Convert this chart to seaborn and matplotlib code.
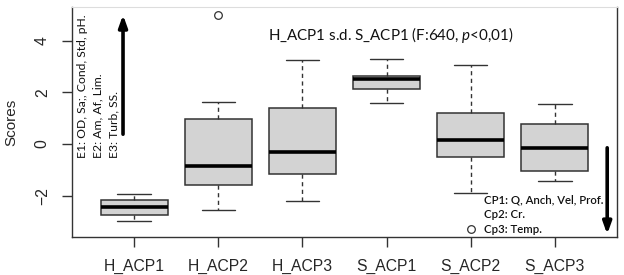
import pandas as pd
import numpy as np
import matplotlib
matplotlib.use('Agg')
import matplotlib.pyplot as plt
import seaborn as sns

# five-number summaries (min, q1, median, q3, max)
GROUPS = ['H_ACP1', 'H_ACP2', 'H_ACP3', 'S_ACP1', 'S_ACP2', 'S_ACP3']
H_ACP1 = [-2.97, -2.76, -2.44, -2.16, -1.95]
H_ACP2 = [-2.56, -1.59, -0.85, 0.97, 1.64]
H_ACP3 = [-2.21, -1.15, -0.31, 1.38, 3.24]
S_ACP1 = [1.58, 2.14, 2.52, 2.64, 3.28]
S_ACP2 = [-1.91, -0.49, 0.14, 1.21, 3.06]
S_ACP3 = [-1.42, -1.03, -0.16, 0.78, 1.54]
OUTLIER_GROUPS = ['H_ACP2', 'S_ACP2']
OUTLIER_VALUES = [5.0, -3.27]

YTICKS = [-2, 0, 2, 4]
TITLE = 'H_ACP1 s.d. S_ACP1 (F:640, $\\it{p}$<0,01)'
LEFT_NOTES = ['E1: OD, Sa;, Cond, Std, pH.', 'E2: Am, Af, Lim.', 'E3: Turb, SS.']
RIGHT_NOTES = ['CP1: Q, Anch, Vel, Prof.', 'Cp2: Cr.', 'Cp3: Temp.']

sns.set_style('white')
plt.rcParams['font.family'] = ['Liberation Sans', 'DejaVu Sans']
plt.rcParams['mathtext.fontset'] = 'custom'
plt.rcParams['mathtext.rm'] = 'Lato'
plt.rcParams['mathtext.it'] = 'Lato:italic'

values = [H_ACP1, H_ACP2, H_ACP3, S_ACP1, S_ACP2, S_ACP3]
df = pd.DataFrame({'group': np.repeat(GROUPS, 5), 'score': np.concatenate(values)})
out = pd.DataFrame({'group': OUTLIER_GROUPS, 'score': OUTLIER_VALUES})

fig = plt.figure(figsize=(6.24, 2.75), dpi=100)
ax = fig.add_axes([0.1154, 0.138, 0.8734, 0.8365])

edge = '#333333'
sns.boxplot(data=df, x='group', y='score', order=GROUPS, whis=(0, 100), width=0.8,
            color='#d3d3d3', linecolor=edge, linewidth=1.1, fliersize=0, ax=ax,
            medianprops=dict(color='black', linewidth=2.6),
            whiskerprops=dict(linestyle=(0, (3, 2.5)), linewidth=1),
            capprops=dict(linewidth=1))
sns.stripplot(data=out, x='group', y='score', order=GROUPS, jitter=False, size=5.5,
              color='white', edgecolor='#333333', linewidth=0.9, ax=ax, zorder=5)

ax.set_xlim(-0.74, 5.74)
ax.set_ylim(-3.6, 5.3)
ax.set_yticks(YTICKS)
ax.set_yticklabels([str(t).replace('-', '\u2212') for t in YTICKS], rotation=90, va='center')
ax.tick_params(axis='both', direction='out', length=7, width=1, color=edge,
               labelsize=11.3, pad=9, left=True, bottom=True)
ax.set_xlabel('')
ax.set_ylabel('Scores', fontsize=11)
ax.yaxis.set_label_coords(-0.098, 0.5)

for side in ['left', 'bottom', 'right']:
    ax.spines[side].set_color(edge)
    ax.spines[side].set_linewidth(1)
ax.spines['top'].set_color('#dddddd')
ax.spines['top'].set_linewidth(0.8)

ax.text(0.584, 0.878, TITLE, transform=ax.transAxes, ha='center', va='center',
        fontsize=10.9, family=['Lato', 'DejaVu Sans'], color='#111111')

for xf, txt in zip([0.019, 0.048, 0.076], LEFT_NOTES):
    ax.text(xf, 0.345, txt, transform=ax.transAxes, rotation=90, ha='center', va='bottom',
            fontsize=8.7, family=['Lato', 'DejaVu Sans'], color='#111111')

for yf, txt in zip([0.161, 0.098, 0.031], RIGHT_NOTES):
    ax.text(0.756, yf, txt, transform=ax.transAxes, ha='left', va='center',
            fontsize=8.2, fontweight='semibold', family=['Lato', 'DejaVu Sans'], color='#111111')

ax.annotate('', xy=(0.0936, 0.978), xytext=(0.0936, 0.435), xycoords='axes fraction',
            arrowprops=dict(arrowstyle='-|>,head_length=0.7,head_width=0.25', lw=2.6, color='black'))
ax.annotate('', xy=(0.982, 0.0), xytext=(0.982, 0.40), xycoords='axes fraction',
            arrowprops=dict(arrowstyle='-|>,head_length=0.7,head_width=0.25', lw=2.6, color='black'))

fig.savefig('out.png', dpi=100)
